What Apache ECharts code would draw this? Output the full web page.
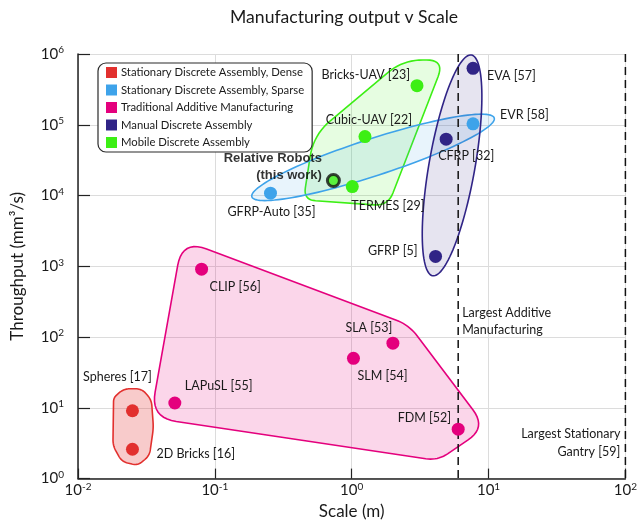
<!DOCTYPE html>
<html>
<head>
<meta charset="utf-8">
<script src="https://cdn.jsdelivr.net/npm/echarts@6/dist/echarts.min.js"></script>
<style>
  html, body { margin: 0; padding: 0; background: #fff; }
  #chart { width: 640px; height: 525px; }
</style>
</head>
<body>
<div id="chart"></div>
<script>
// ---- Data: scale (m) vs throughput (mm^3/s) ----
const denseNames = ['Spheres [17]', '2D Bricks [16]'];
const denseScale = [0.025, 0.025];
const denseRate = [9.1, 2.6];

const sparseNames = ['GFRP-Auto [35]', 'EVR [58]'];
const sparseScale = [0.255, 7.7];
const sparseRate = [10800, 103000];

const additiveNames = ['LAPuSL [55]', 'CLIP [56]', 'SLM [54]', 'SLA [53]', 'FDM [52]'];
const additiveScale = [0.051, 0.080, 1.03, 2.0, 6.0];
const additiveRate = [11.7, 910, 50, 82, 5.0];

const manualNames = ['EVA [57]', 'CFRP [32]', 'GFRP [5]'];
const manualScale = [7.7, 4.9, 4.1];
const manualRate = [628000, 62500, 1380];

const mobileNames = ['Bricks-UAV [23]', 'Cubic-UAV [22]', 'TERMES [29]'];
const mobileScale = [3.0, 1.25, 1.01];
const mobileRate = [357000, 68000, 13400];

const thisWorkNames = ['Relative Robots\n(this work)'];
const thisWorkScale = [0.735];
const thisWorkRate = [16300];

// Category outlines in data space (scale, throughput)
const denseRegion = [[0.0182, 13.9], [0.0216, 18.6], [0.0292, 18.6], [0.0344, 13.0], [0.0356, 5.25],
                     [0.0333, 2.11], [0.0273, 1.53], [0.0209, 1.74], [0.0180, 2.92]];
const additiveRegion = [[0.0578, 2367], [2.615, 149], [9.63, 5.25], [4.246, 1.80], [0.0339, 7.27]];
const mobileRegion = [[4.77, 824000], [2.366, 824000], [0.5255, 71900], [0.4446, 8690], [1.841, 7150]];
const sparseAxisEnds = [[0.1864, 9580], [11.0, 125000]];
const manualAxisEnds = [[7.5, 968000], [3.906, 735]];

// Reference scale limits
const boundaryScales = [6, 100];
const boundaryNotes = ['Largest Additive\nManufacturing', 'Largest Stationary\nGantry [59]'];
const boundaryNoteRate = [165, 3.2];

const seriesNames = [
  'Stationary Discrete Assembly, Dense',
  'Stationary Discrete Assembly, Sparse',
  'Traditional Additive Manufacturing',
  'Manual Discrete Assembly',
  'Mobile Discrete Assembly'
];

// ---- Styling ----
const FONT = 'Lato';
const C = {
  dense: '#e2302e', sparse: '#3ea3ea', additive: '#e4007d',
  manual: '#302486', mobile: '#3cef14', text: '#1a1a1a'
};

// label anchor: [align, dx, dy] relative to the marker centre
const labelPlacement = {
  'Spheres [17]': ['center', -15, -34],
  '2D Bricks [16]': ['left', 24, 5],
  'LAPuSL [55]': ['left', 10, -17],
  'CLIP [56]': ['left', 8, 18],
  'SLA [53]': ['center', -24, -15],
  'SLM [54]': ['left', 4, 18],
  'FDM [52]': ['right', -7, -11],
  'GFRP-Auto [35]': ['center', 1, 19],
  'TERMES [29]': ['left', -1, 19],
  'Cubic-UAV [22]': ['center', 4, -17],
  'Bricks-UAV [23]': ['right', -7, -11],
  'EVA [57]': ['left', 14, 8],
  'EVR [58]': ['left', 27, -9],
  'CFRP [32]': ['left', -8, 17],
  'GFRP [5]': ['right', -18, -5],
  'Relative Robots\n(this work)': ['right', -10, -12]
};

function points(names, xs, ys, size) {
  const h = size / 2;
  return names.map((n, i) => {
    const p = labelPlacement[n];
    return {
      name: n,
      value: [xs[i], ys[i]],
      // position is measured from the symbol box's top-left corner
      label: { position: [h + p[1], h + p[2]], align: p[0], verticalAlign: 'middle' }
    };
  });
}

function scatterSeries(name, names, xs, ys, color) {
  return {
    name: name,
    type: 'scatter',
    z: 5,
    symbolSize: 13,
    itemStyle: { color: color, opacity: 1 },
    label: {
      show: true,
      formatter: '{b}', fontFamily: FONT, fontSize: 12.5, color: C.text
    },
    emphasis: { disabled: true },
    data: points(names, xs, ys, 13)
  };
}

// Rounded polygon: quadratic corner blends sampled into a point list
function roundedOutline(px, radius) {
  const out = [];
  const n = px.length;
  for (let i = 0; i < n; i++) {
    const v = px[i], a = px[(i - 1 + n) % n], b = px[(i + 1) % n];
    const la = Math.hypot(a[0] - v[0], a[1] - v[1]);
    const lb = Math.hypot(b[0] - v[0], b[1] - v[1]);
    const r = Math.min(radius[i], la / 2, lb / 2);
    const pIn = [v[0] + (a[0] - v[0]) * r / la, v[1] + (a[1] - v[1]) * r / la];
    const pOut = [v[0] + (b[0] - v[0]) * r / lb, v[1] + (b[1] - v[1]) * r / lb];
    for (let k = 0; k <= 10; k++) {
      const t = k / 10, u = 1 - t;
      out.push([u * u * pIn[0] + 2 * u * t * v[0] + t * t * pOut[0],
                u * u * pIn[1] + 2 * u * t * v[1] + t * t * pOut[1]]);
    }
  }
  return out;
}

function regionSeries(verts, radius, stroke, fill, z) {
  return {
    type: 'custom', silent: true, z: z,
    data: verts,
    encode: { x: 0, y: 1 },
    renderItem: function (params, api) {
      if (params.dataIndex !== 0) return null;
      const px = verts.map(p => api.coord(p));
      return {
        type: 'polygon',
        shape: { points: roundedOutline(px, radius) },
        style: { fill: fill, stroke: stroke, lineWidth: 1.6 }
      };
    }
  };
}

function ellipseSeries(ends, halfWidth, stroke, fill, z) {
  return {
    type: 'custom', silent: true, z: z,
    data: ends,
    encode: { x: 0, y: 1 },
    renderItem: function (params, api) {
      if (params.dataIndex !== 0) return null;
      const p1 = api.coord(ends[0]), p2 = api.coord(ends[1]);
      const cx = (p1[0] + p2[0]) / 2, cy = (p1[1] + p2[1]) / 2;
      const a = Math.hypot(p2[0] - p1[0], p2[1] - p1[1]) / 2;
      const ang = Math.atan2(p2[1] - p1[1], p2[0] - p1[0]);
      const pts = [];
      for (let k = 0; k < 120; k++) {
        const t = k / 120 * Math.PI * 2;
        const ex = a * Math.cos(t), ey = halfWidth * Math.sin(t);
        pts.push([cx + ex * Math.cos(ang) - ey * Math.sin(ang),
                  cy + ex * Math.sin(ang) + ey * Math.cos(ang)]);
      }
      return {
        type: 'polygon',
        shape: { points: pts },
        style: { fill: fill, stroke: stroke, lineWidth: 1.6 }
      };
    }
  };
}

const boundaryData = boundaryScales.map((x, i) => [x, boundaryNoteRate[i]]);

const supLabel = function (v) {
  const e = Math.round(Math.log10(v));
  return '{b|10}{s|' + e + '}';
};
const supRich = {
  b: { fontFamily: FONT, fontSize: 15, color: C.text, lineHeight: 18 },
  s: { fontFamily: FONT, fontSize: 10, color: C.text, verticalAlign: 'top', lineHeight: 12 }
};

const chart = echarts.init(document.getElementById('chart'), null, { renderer: 'canvas' });

chart.setOption({
  animation: false,
  backgroundColor: '#ffffff',
  title: {
    text: 'Manufacturing output v Scale',
    left: 225, top: 3,
    textStyle: { fontFamily: FONT, fontSize: 17.6, fontWeight: 'normal', color: C.text }
  },
  grid: { left: 78, right: 11, top: 54, bottom: 46 },
  legend: {
    data: seriesNames,
    orient: 'vertical',
    left: 98, top: 63,
    padding: [4, 8, 4, 8],
    itemWidth: 11, itemHeight: 11, itemGap: 6.5,
    icon: 'rect',
    backgroundColor: '#ffffff',
    borderColor: '#2a2a2a', borderWidth: 1.2, borderRadius: 8,
    selectedMode: false,
    textStyle: { fontFamily: FONT, fontSize: 11.3, color: C.text, lineHeight: 11, padding: [0, 0, 0, -1] }
  },
  xAxis: {
    type: 'log', logBase: 10, min: 0.01, max: 100,
    name: 'Scale (m)', nameLocation: 'middle', nameGap: 18,
    nameTextStyle: { fontFamily: FONT, fontSize: 17, color: C.text },
    axisLine: { show: true, lineStyle: { color: '#222', width: 1.5 } },
    axisTick: { show: true, inside: true, length: 10, lineStyle: { color: '#222', width: 1.2 } },
    minorTick: { show: false },
    splitLine: { show: true, lineStyle: { color: '#dcdcdc', width: 1 } },
    axisLabel: { formatter: supLabel, rich: supRich, margin: 3 }
  },
  yAxis: {
    type: 'log', logBase: 10, min: 1, max: 1000000,
    name: 'Throughput (mm³/s)', nameLocation: 'middle', nameGap: 52,
    nameTextStyle: { fontFamily: FONT, fontSize: 17, color: C.text },
    axisLine: { show: true, lineStyle: { color: '#222', width: 1.5 } },
    axisTick: { show: true, inside: true, length: 12, lineStyle: { color: '#222', width: 1.2 } },
    splitLine: { show: true, lineStyle: { color: '#dcdcdc', width: 1 } },
    axisLabel: { formatter: supLabel, rich: supRich, margin: 14 }
  },
  series: [
    regionSeries(denseRegion, [4, 6, 6, 6, 6, 6, 6, 6, 6], C.dense, 'rgba(226,48,46,0.25)', 1),
    regionSeries(additiveRegion, [26, 14, 22, 12, 26], C.additive, 'rgba(228,0,125,0.16)', 1),
    regionSeries(mobileRegion, [18, 20, 22, 12, 14], C.mobile, 'rgba(60,239,20,0.13)', 1),
    ellipseSeries(sparseAxisEnds, 18.5, C.sparse, 'rgba(62,163,234,0.12)', 2),
    ellipseSeries(manualAxisEnds, 23, C.manual, 'rgba(48,36,134,0.12)', 2),
    {
      type: 'custom', silent: true, z: 3,
      data: boundaryData,
      encode: { x: 0, y: 1 },
      renderItem: function (params, api) {
        const i = params.dataIndex;
        const x = api.value(0);
        const top = api.coord([x, 1000000]);
        const bot = api.coord([x, 1]);
        const anchor = api.coord([x, api.value(1)]);
        const right = i === boundaryScales.length - 1;
        return {
          type: 'group',
          children: [
            {
              type: 'line',
              shape: { x1: top[0], y1: top[1], x2: bot[0], y2: bot[1] },
              style: { stroke: '#111', lineWidth: 1.5, lineDash: [8, 5] }
            },
            {
              type: 'text',
              x: anchor[0] + (right ? -5 : 4), y: anchor[1],
              style: {
                text: boundaryNotes[i], fontFamily: FONT, fontSize: 12.5, fill: C.text,
                align: right ? 'right' : 'left', verticalAlign: 'middle', lineHeight: 17.5
              }
            }
          ]
        };
      }
    },
    scatterSeries(seriesNames[0], denseNames, denseScale, denseRate, C.dense),
    scatterSeries(seriesNames[1], sparseNames, sparseScale, sparseRate, C.sparse),
    scatterSeries(seriesNames[2], additiveNames, additiveScale, additiveRate, C.additive),
    scatterSeries(seriesNames[3], manualNames, manualScale, manualRate, C.manual),
    scatterSeries(seriesNames[4], mobileNames, mobileScale, mobileRate, C.mobile),
    {
      name: 'Relative Robots (this work)',
      type: 'scatter', z: 6,
      symbolSize: 12,
      itemStyle: { color: C.mobile, borderColor: '#111', borderWidth: 3 },
      label: {
        show: true,
        formatter: '{b}', fontFamily: 'Liberation Sans', fontWeight: 'bold',
        fontSize: 13, lineHeight: 16.5, color: '#000'
      },
      emphasis: { disabled: true },
      data: points(thisWorkNames, thisWorkScale, thisWorkRate, 12)
    }
  ]
});
</script>
</body>
</html>
